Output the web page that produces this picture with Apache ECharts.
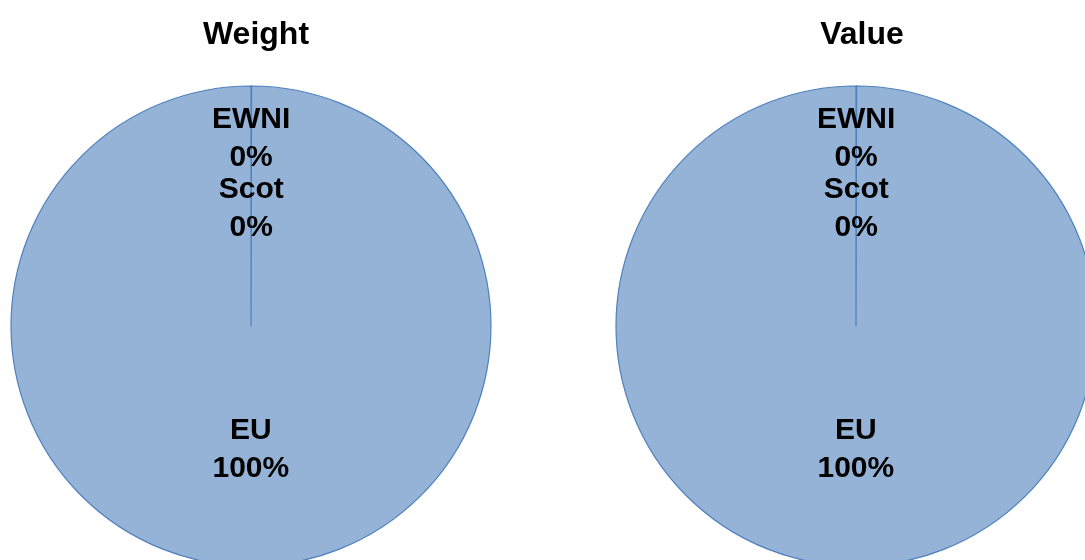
<!DOCTYPE html>
<html>
<head>
<meta charset="utf-8">
<script src="https://cdn.jsdelivr.net/npm/echarts@6/dist/echarts.min.js"></script>
<style>
html,body{margin:0;padding:0;background:#fff;}
#main{width:1085px;height:560px;}
</style>
</head>
<body>
<div id="main"></div>
<script>
const categories = ['EWNI', 'Scot', 'EU'];
const weightValues = [0.02, 0.02, 99.96];
const valueValues = [0.02, 0.02, 99.96];
const chartTitles = ['Weight', 'Value'];

const chart = echarts.init(document.getElementById('main'), null, {renderer: 'canvas'});
const FONT = 'Liberation Sans, Arial, sans-serif';

function makeSeries(values, cx) {
  return {
    type: 'pie',
    center: [cx, 326],
    radius: 240,
    startAngle: 90,
    clockwise: true,
    avoidLabelOverlap: false,
    silent: true,
    itemStyle: { color: '#95B3D7', borderColor: '#4F81BD', borderWidth: 1.2 },
    label: {
      show: true,
      position: 'inside',
      color: '#000',
      fontFamily: FONT,
      fontWeight: 'bold',
      fontSize: 30,
      lineHeight: 38,
      formatter: function (p) { return p.name + '\n' + Math.round(p.percent) + '%'; }
    },
    labelLine: { show: false },
    labelLayout: function (p) {
      if (p.dataIndex === 0) return { dy: -64 };
      if (p.dataIndex === 1) return { dy: 6 };
      return { dy: 1 };
    },
    emphasis: { disabled: true },
    data: categories.map((c, i) => ({ name: c, value: values[i] }))
  };
}

chart.setOption({
  animation: false,
  backgroundColor: '#fff',
  title: [
    { text: chartTitles[0], left: 251, top: 14, textAlign: 'center',
      textStyle: { fontFamily: FONT, fontWeight: 'bold', fontSize: 32, color: '#000' } },
    { text: chartTitles[1], left: 857, top: 14, textAlign: 'center',
      textStyle: { fontFamily: FONT, fontWeight: 'bold', fontSize: 32, color: '#000' } }
  ],
  series: [makeSeries(weightValues, 251), makeSeries(valueValues, 856)]
});
</script>
</body>
</html>
